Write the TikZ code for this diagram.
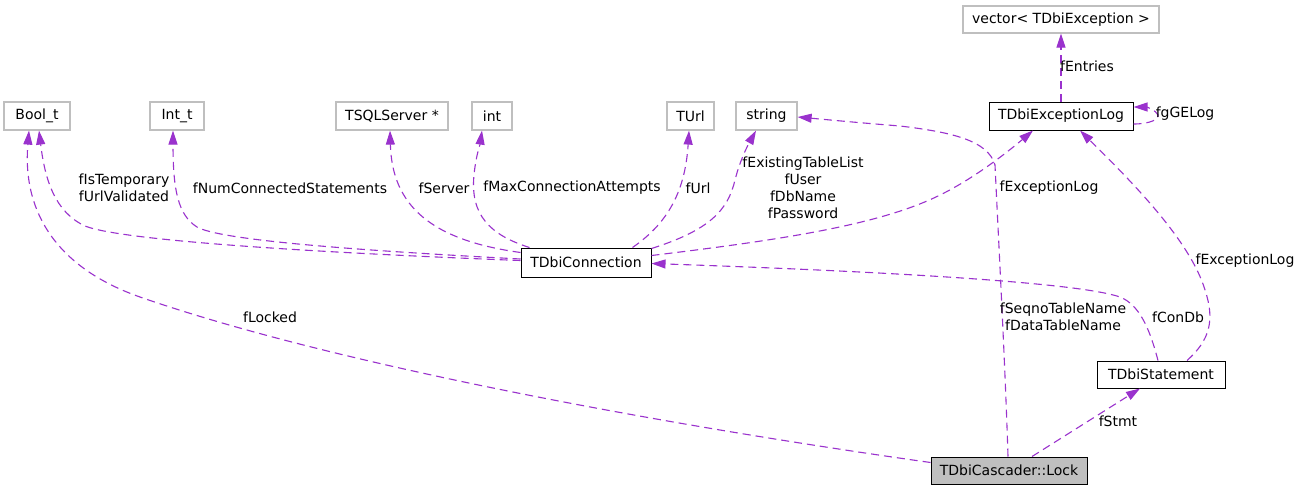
\documentclass[tikz,border=0pt]{standalone}
\usepackage{fontspec}
\setmainfont{DejaVu Sans}
\usetikzlibrary{arrows.meta,calc}
\definecolor{edgec}{HTML}{9A32CD}
\definecolor{extc}{HTML}{BFBFBF}
\definecolor{lockfill}{HTML}{BFBFBF}
\tikzset{
  extbox/.style={draw=extc,line width=1.2pt,fill=white,inner sep=0pt,minimum height=28pt},
  clsbox/.style={draw=black,line width=1pt,fill=white,inner sep=0pt,minimum height=28pt},
  rel/.style={draw=edgec,line width=1.1pt,dash pattern=on 8pt off 5pt,-{Triangle[length=14pt,width=9pt]}},
  lbl/.style={inner sep=0pt,align=center,font=\fontsize{14}{17}\selectfont},
}
\begin{document}
\begin{tikzpicture}[x=1pt,y=-1pt,font=\fontsize{14}{17}\selectfont]
\useasboundingbox[fill=white] (0,0) rectangle (1300,491);
% nodes
\node[extbox,minimum width=66pt] (boolt) at (37,116) {Bool\_t};
\node[extbox,minimum width=54pt] (intt) at (177,116) {Int\_t};
\node[extbox,minimum width=112pt] (tsql) at (392,116) {TSQLServer *};
\node[extbox,minimum width=40pt] (intn) at (492,116) {int};
\node[extbox,minimum width=47pt] (turl) at (690.5,116) {TUrl};
\node[extbox,minimum width=61pt] (string) at (766.5,116) {string};
\node[extbox,minimum width=196pt,minimum height=27pt] (vec) at (1061,19.5) {vector< TDbiException >};
\node[clsbox,minimum width=144pt] (exlog) at (1061,116) {TDbiExceptionLog};
\node[clsbox,minimum width=130pt,minimum height=29pt] (conn) at (586,262.5) {TDbiConnection};
\node[clsbox,minimum width=128pt,minimum height=27pt] (stmt) at (1161,374.5) {TDbiStatement};
\node[clsbox,fill=lockfill,minimum width=156pt,minimum height=27pt] (lock) at (1009,470.5) {TDbiCascader::Lock};
% edges
\draw[rel] ($(lock.north west)+(0,6)$) .. controls (700,430) and (350,370) .. (140,297)
  .. controls (60,269) and (22,215) .. ($(boolt.south)+(-8,0)$);
\draw[rel] ($(conn.west)+(0,-2)$) .. controls (300,252) and (120,240) .. (85,226)
  .. controls (55,212) and (45,180) .. ($(boolt.south)+(2,0)$);
\draw[rel] ($(conn.west)+(0,-3.5)$) .. controls (350,250) and (220,240) .. (197,227)
  .. controls (178,215) and (173,190) .. ($(intt.south)+(-4,0)$);
\draw[rel] ($(conn.north west)+(0,5)$) .. controls (430,240) and (392,205) .. ($(tsql.south)+(-2,0)$);
\draw[rel] ($(conn.north west)+(9,0)$) .. controls (490,235) and (470,215) .. (474,175)
  .. controls (476,155) and (480,145) .. ($(intn.south)+(-10,0)$);
\draw[rel] ($(conn.north west)+(112,0)$) .. controls (665,225) and (685,195) .. ($(turl.south)+(-1.5,0)$);
\draw[rel] ($(conn.north east)+(0,1)$) .. controls (710,230) and (728,210) .. (735,180)
  .. controls (740,160) and (748,145) .. ($(string.south)+(-10.5,0)$);
\draw[rel] ($(conn.east)+(0,-7)$) .. controls (780,240) and (880,225) .. (940,195)
  .. controls (975,178) and (1010,150) .. ($(exlog.south)+(-28,0)$);
\draw[rel] ($(lock.north)+(-1,0)$) .. controls (1005,360) and (998,230) .. (995,165)
  .. controls (988,140) and (950,132) .. (900,126)
  .. controls (850,122) and (820,119) .. ($(string.east)+(0,1)$);
\draw[rel] ($(stmt.north)+(-3,0)$) .. controls (1150,330) and (1140,305) .. (1120,297)
  .. controls (1080,283) and (900,272) .. ($(conn.east)+(0,1)$);
\draw[rel] ($(stmt.north)+(26,0)$) .. controls (1210,340) and (1215,320) .. (1205,290)
  .. controls (1190,240) and (1130,180) .. ($(exlog.south)+(19,0)$);
\draw[rel] ($(lock.north)+(23,0)$) -- ($(stmt.south)+(-21,0)$);
\draw[rel] (exlog.north) -- (vec.south);
\draw[rel] ($(exlog.east)+(0,8)$) .. controls (1150,124) and (1160,119) .. (1158,115)
  .. controls (1156,110) and (1146,107) .. ($(exlog.east)+(0,-9)$);
% labels
\node[lbl] (l1) at (270,317) {fLocked};
\node[lbl] (l2) at (124,187.5) {fIsTemporary\\fUrlValidated};
\node[lbl] (l3) at (290,188) {fNumConnectedStatements};
\node[lbl] (l4) at (444,188) {fServer};
\node[lbl] (l5) at (572,188) {fMaxConnectionAttempts};
\node[lbl] (l6) at (698,188) {fUrl};
\node[lbl] (l7) at (803,187.5) {fExistingTableList\\fUser\\fDbName\\fPassword};
\node[lbl] (l8) at (1049,188) {fExceptionLog};
\node[lbl] (l9) at (1063,317) {fSeqnoTableName\\fDataTableName};
\node[lbl] (l10) at (1178,317) {fConDb};
\node[lbl] (l11) at (1245,261) {fExceptionLog};
\node[lbl] (l12) at (1118,421) {fStmt};
\node[lbl] (l13) at (1087,66) {fEntries};
\node[lbl] (l14) at (1185,114) {fgGELog};
\end{tikzpicture}
\end{document}
